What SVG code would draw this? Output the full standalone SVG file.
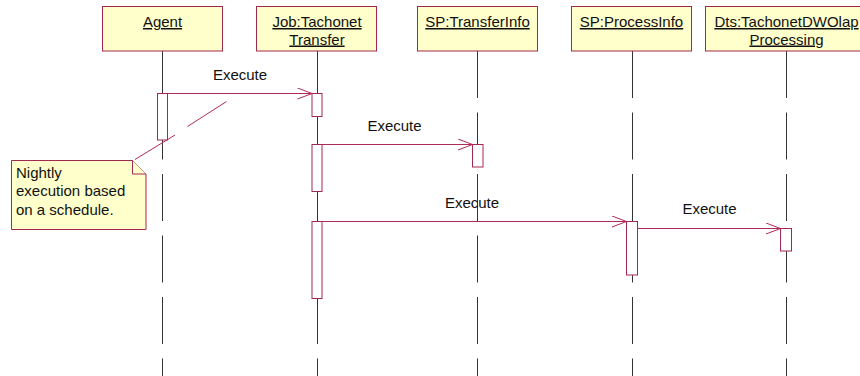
<svg xmlns="http://www.w3.org/2000/svg" width="860" height="376" viewBox="0 0 860 376">
<style>
  .box { fill: #FFFFCC; stroke: #A3284F; stroke-width: 1; }
  .act { fill: #FFFFFF; stroke: #A3284F; stroke-width: 1; }
  .life { stroke: #333333; stroke-width: 1; stroke-dasharray: 47 14.5; fill: none; }
  .msg { stroke: #B02A58; stroke-width: 1; fill: none; }
  .lbl { font-family: "Liberation Sans", Arial, sans-serif; font-size: 15px; fill: #111111; }
  .hdr { font-family: "Liberation Sans", Arial, sans-serif; font-size: 15px; fill: #111111; text-anchor: middle; text-decoration: underline; }
  .note { fill: #FFFFCC; stroke: #A3284F; stroke-width: 1; }
  .anchor { stroke: #B02A58; stroke-width: 1; fill: none; }
</style>
<defs>
  <marker id="open" markerUnits="userSpaceOnUse" viewBox="0 0 16 12" refX="15" refY="6" markerWidth="16" markerHeight="12" orient="auto">
    <path d="M0.5,0.5 L15,6 L0.5,11.5" fill="none" stroke="#B02A58" stroke-width="1"/>
  </marker>
</defs>
<rect width="860" height="376" fill="#FFFFFF"/>

<g id="lifelines">
  <line class="life" x1="162.5" y1="51" x2="162.5" y2="376"/>
  <line class="life" x1="317.5" y1="51" x2="317.5" y2="376"/>
  <line class="life" x1="477.5" y1="51" x2="477.5" y2="376"/>
  <line class="life" x1="632.5" y1="51" x2="632.5" y2="376"/>
  <line class="life" x1="786.5" y1="51" x2="786.5" y2="376"/>
</g>

<g id="node-agent">
  <rect class="box" x="102.5" y="6.5" width="120" height="44.5"/>
  <text class="hdr" x="162.5" y="27">Agent</text>
  <rect class="act" x="157.5" y="93.5" width="10" height="46.5"/>
</g>
<g id="node-job">
  <rect class="box" x="256.5" y="6.5" width="120" height="44.5"/>
  <text class="hdr" x="317" y="27">Job:Tachonet</text>
  <text class="hdr" x="317" y="44.5">Transfer</text>
  <rect class="act" x="312" y="93.5" width="10" height="23"/>
  <rect class="act" x="312" y="144.5" width="10" height="47"/>
  <rect class="act" x="312" y="221.5" width="10" height="77"/>
</g>
<g id="node-transferinfo">
  <rect class="box" x="417.5" y="6.5" width="120" height="44.5"/>
  <text class="hdr" x="477.5" y="27">SP:TransferInfo</text>
  <rect class="act" x="472.5" y="144.5" width="10.5" height="22.5"/>
</g>
<g id="node-processinfo">
  <rect class="box" x="571.5" y="6.5" width="120" height="44.5"/>
  <text class="hdr" x="631.5" y="27">SP:ProcessInfo</text>
  <rect class="act" x="626.5" y="221.5" width="11" height="53.5"/>
</g>
<g id="node-dts">
  <rect class="box" x="705.5" y="6.5" width="162" height="44.5"/>
  <text class="hdr" x="786.5" y="27">Dts:TachonetDWOlap</text>
  <text class="hdr" x="786.5" y="44.5">Processing</text>
  <rect class="act" x="780.5" y="228.5" width="11" height="22.5"/>
</g>

<g id="node-note">
  <path class="note" d="M11.5,160.5 L132.5,160.5 L146,174 L146,229.5 L11.5,229.5 Z"/>
  <path class="note" d="M132.5,160.5 L132.5,174 L146,174"/>
  <text class="lbl" x="16" y="177.5">Nightly</text>
  <text class="lbl" x="16" y="196">execution based</text>
  <text class="lbl" x="16" y="214.5">on a schedule.</text>
</g>

<g id="connectors">
  <line class="anchor" x1="135" y1="159.5" x2="175" y2="135"/>
  <line class="anchor" x1="187.5" y1="126.5" x2="226.5" y2="101.5"/>

  <line class="msg" x1="167.5" y1="93.5" x2="312" y2="93.5" marker-end="url(#open)"/>
  <text class="lbl" x="240" y="80" text-anchor="middle">Execute</text>

  <line class="msg" x1="322" y1="144.5" x2="472.5" y2="144.5" marker-end="url(#open)"/>
  <text class="lbl" x="394.5" y="131" text-anchor="middle">Execute</text>

  <line class="msg" x1="322" y1="221.5" x2="626.5" y2="221.5" marker-end="url(#open)"/>
  <text class="lbl" x="472" y="208" text-anchor="middle">Execute</text>

  <line class="msg" x1="637.5" y1="228.5" x2="780.5" y2="228.5" marker-end="url(#open)"/>
  <text class="lbl" x="709.5" y="214" text-anchor="middle">Execute</text>
</g>
</svg>
